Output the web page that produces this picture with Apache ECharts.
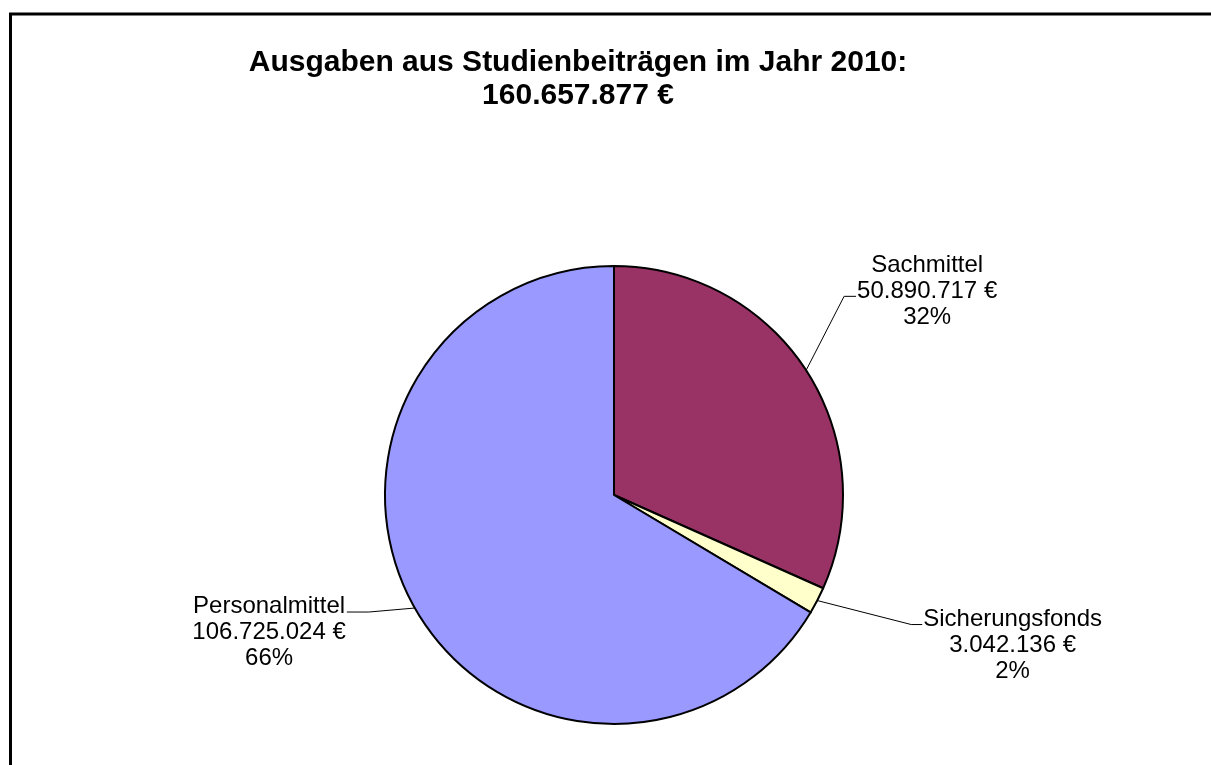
<!DOCTYPE html>
<html>
<head>
<meta charset="utf-8">
<title>Ausgaben aus Studienbeiträgen 2010</title>
<script src="https://cdn.jsdelivr.net/npm/echarts@6/dist/echarts.min.js"></script>
<style>
  html, body { margin: 0; padding: 0; background: #fff; }
  #main { width: 1211px; height: 765px; }
</style>
</head>
<body>
<div id="main"></div>
<script>
// Daten
var categories = ['Sachmittel', 'Sicherungsfonds', 'Personalmittel'];
var amounts = [50890717, 3042136, 106725024];
var total = 160657877;
var sliceColors = ['#993366', '#FFFFCC', '#9999FF'];

// Beschriftungslinien: Knick relativ zum Randpunkt, waagrechtes Stück, Zeile an der die Linie ansetzt
var guides = [
  { dx: 38, dy: -74, len: 12, line: 1 },
  { dx: 94, dy: 24, len: 11, line: 0 },
  { dx: -46, dy: 4, len: -22, line: 0 }
];

var FONT = 'Liberation Sans, Arial, sans-serif';
var LABEL_SIZE = 24;
var LABEL_LH = 26;

function fmt(n) {
  return String(n).replace(/\B(?=(\d{3})+(?!\d))/g, '.');
}

var chart = echarts.init(document.getElementById('main'));

var option = {
  animation: false,
  backgroundColor: '#fff',
  graphic: [
    {
      type: 'rect',
      silent: true,
      shape: { x: 10.5, y: 14, width: 1260, height: 820 },
      style: { fill: 'none', stroke: '#000', lineWidth: 3 }
    },
    {
      type: 'text',
      silent: true,
      x: 578,
      y: 46,
      style: {
        text: 'Ausgaben aus Studienbeiträgen im Jahr 2010:\n' + fmt(total) + ' €',
        font: 'bold 30px ' + FONT,
        lineHeight: 33,
        textAlign: 'center',
        textVerticalAlign: 'top',
        fill: '#000'
      }
    }
  ],
  series: [
    {
      type: 'pie',
      center: [614, 495],
      radius: 229,
      startAngle: 90,
      clockwise: true,
      avoidLabelOverlap: false,
      silent: true,
      itemStyle: { borderColor: '#000', borderWidth: 2 },
      label: {
        show: true,
        position: 'outside',
        color: '#000',
        fontFamily: FONT,
        fontSize: LABEL_SIZE,
        lineHeight: LABEL_LH,
        formatter: function (p) {
          return p.name + '\n' + fmt(p.value) + ' €\n' + Math.round(p.percent) + '%';
        }
      },
      labelLine: {
        show: true,
        length: 20,
        length2: 10,
        lineStyle: { color: '#000', width: 1 }
      },
      labelLayout: function (params) {
        var g = guides[params.dataIndex];
        var a = params.labelLinePoints[0];
        var elbow = [a[0] + g.dx, a[1] + g.dy];
        var end = [elbow[0] + g.len, elbow[1]];
        var w = params.labelRect.width;
        var baseOff = LABEL_LH / 2 + 0.3465 * LABEL_SIZE - 3;
        var top = end[1] - g.line * LABEL_LH - baseOff;
        var cx = g.len >= 0 ? end[0] + 1 + w / 2 : end[0] - 1 - w / 2;
        return {
          x: cx,
          y: top,
          align: 'center',
          verticalAlign: 'top',
          labelLinePoints: [a, elbow, end]
        };
      },
      data: categories.map(function (c, i) {
        return { name: c, value: amounts[i], itemStyle: { color: sliceColors[i] } };
      })
    }
  ]
};

chart.setOption(option);

window.addEventListener('resize', function () {
  chart.resize();
});
</script>
</body>
</html>
